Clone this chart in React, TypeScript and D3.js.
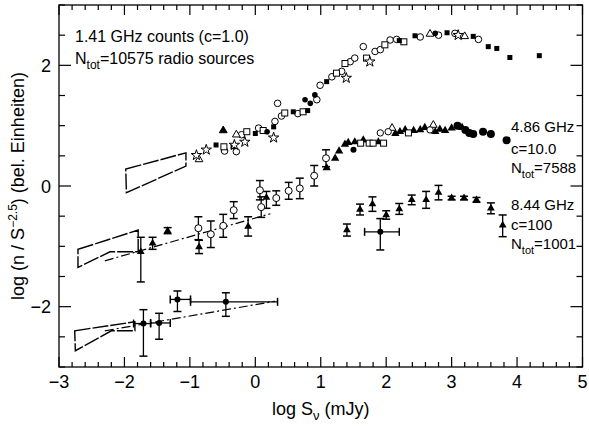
import React from "react";
import * as d3 from "d3";

// ---------- data ----------
type P = [number, number];
// 1.41 GHz counts (c=1.0)
const s141OpenCircles: P[] = [[-0.47,0.58],[-0.29,0.57],[-0.21,0.85],[0.05,0.96],[0.30,1.07],[0.34,1.37],[0.40,1.16],[0.65,1.20],[0.94,1.43],[0.99,1.67],[1.17,1.81],[1.32,1.90],[1.45,2.06],[1.52,2.12],[1.65,2.31],[1.83,2.23],[1.91,2.26],[2.06,2.42],[2.16,2.43],[2.52,2.47],[2.80,2.50],[3.05,2.53],[3.41,2.43]];
const s141OpenSquares: P[] = [[-0.48,0.65],[-0.13,0.90],[0.12,0.92],[0.45,1.21],[0.73,1.23],[1.24,1.87],[1.37,2.03],[1.70,2.12],[1.98,2.34],[2.27,2.39]];
const s141FilledSquares: P[] = [[-0.60,0.68],[-0.34,0.65],[0.0,0.87],[0.28,0.98],[0.58,1.23],[0.80,1.25],[1.09,1.73],[2.20,2.41],[2.44,2.49],[2.93,2.54],[3.33,2.48],[3.56,2.31],[3.69,2.28],[3.89,2.13],[4.34,2.16]];
const s141FilledCircles: P[] = [[0.18,0.90],[0.76,1.43],[0.84,1.37],[0.91,1.51],[2.75,2.53]];
const s141Triangles: P[] = [[-0.49,0.92],[-0.86,0.44],[-0.29,0.85],[2.67,2.52],[3.20,2.48]];
const s141Stars: P[] = [[-0.90,0.51],[-0.75,0.60],[-0.32,0.68],[-0.16,0.73],[0.28,0.80],[1.39,1.79],[1.75,2.06],[3.10,2.50]];
const wedge141: P[] = [[-1.98,0.28],[-1.06,0.55],[-1.06,0.33],[-1.97,-0.11]];

// 4.86 GHz (c=10.0)
const s486FilledTriangles: P[] = [[1.09,0.30],[1.22,0.46],[1.28,0.58],[1.37,0.69],[1.42,0.72],[1.52,0.73],[1.65,0.76],[1.88,0.73],[2.14,0.87],[2.21,0.90],[2.29,0.93],[2.42,0.92],[2.52,0.93],[2.59,0.97],[2.75,0.90],[2.82,0.94],[2.90,0.92],[3.00,0.96],[3.16,0.97]];
const s486OpenSquares: P[] = [[1.61,0.71],[1.74,0.71],[1.80,0.71],[1.96,0.71],[2.34,0.88]];
const s486FilledCircles: P[] = [[1.50,0.60],[3.09,1.00],[3.21,0.93],[3.27,0.88],[3.33,0.86],[3.48,0.90],[3.60,0.86],[3.84,0.76]];
const s486OpenTriangles: P[] = [[2.09,0.96],[2.72,1.01]];
const s486OpenCircles: P[] = [[1.91,0.88],[2.03,0.90],[2.67,0.93]];
// [x, y, errDown, errUp]
const s486OpenErr: [number,number,number,number][] = [[-0.87,-0.70,0.19,0.19],[-0.68,-0.80,0.22,0.22],[-0.49,-0.66,0.19,0.19],[-0.33,-0.40,0.14,0.14],[0.07,-0.07,0.16,0.16],[0.09,-0.35,0.17,0.17],[0.32,-0.20,0.12,0.12],[0.51,-0.08,0.14,0.14],[0.68,-0.04,0.17,0.17],[0.90,0.17,0.17,0.17],[1.08,0.46,0.14,0.14]];
const s486FilledErr: [number,number,number,number][] = [[-1.75,-1.09,0.50,0.24],[-1.57,-0.95,0.10,0.10],[-1.34,-0.74,0.05,0.05],[-0.86,-1.01,0.11,0.11],[-0.11,-0.67,0.16,0.16],[0.17,-0.19,0.18,0.10]];
const wedge486: P[] = [[-2.71,-1.05],[-1.79,-0.73],[-1.79,-1.09],[-2.22,-1.09],[-2.71,-1.35]];
const fit486: P[] = [[-2.30,-1.24],[0.23,-0.46]];

// 8.44 GHz (c=100)
const s844Err: [number,number,number,number][] = [[1.40,-0.73,0.10,0.10],[1.60,-0.39,0.09,0.09],[1.79,-0.30,0.12,0.12],[2.00,-0.48,0.07,0.07],[2.20,-0.38,0.09,0.09],[2.39,-0.23,0.08,0.08],[2.61,-0.23,0.14,0.14],[2.80,-0.11,0.12,0.12],[3.00,-0.20,0.03,0.03],[3.19,-0.20,0.03,0.03],[3.38,-0.23,0.04,0.04],[3.60,-0.37,0.09,0.09],[3.78,-0.65,0.19,0.17]];
// [x, y, xLow, xHigh, yLow, yHigh]
const s844Cross: [number,number,number,number,number,number][] = [[1.91,-0.76,1.67,2.20,-1.06,-0.54],[-1.71,-2.28,-1.86,-1.60,-2.82,-2.05],[-1.47,-2.27,-1.60,-1.30,-2.54,-2.11],[-1.19,-1.88,-1.30,-0.99,-2.08,-1.74],[-0.45,-1.92,-0.99,0.34,-2.16,-1.77]];
const wedge844: P[] = [[-2.76,-2.40],[-1.84,-2.25],[-1.84,-2.40],[-2.20,-2.40],[-2.75,-2.73]];
const fit844: P[] = [[-2.30,-2.40],[0.30,-1.91]];

const xTickLabels = [-3, -2, -1, 0, 1, 2, 3, 4, 5];
const yTickLabels = [-2, 0, 2];

// ---------- layout ----------
const W = 589, H = 426;
const L = 59, R = 582.5, T = 5, B = 367;
const FONT = "'Liberation Sans', Arial, Helvetica, sans-serif";
const fmt = (v: number) => (v < 0 ? "\u2212" + Math.abs(v) : String(v));

export default function App() {
  const x = d3.scaleLinear().domain([-3, 5]).range([L, R]);
  const y = d3.scaleLinear().domain([-3, 3]).range([B, T]);
  const xMinor = d3.range(-3, 5.001, 0.2).map((v) => Math.round(v * 10) / 10);
  const yMinor = d3.range(-3, 3.001, 0.5);
  const line = d3.line<P>().x((d) => x(d[0])).y((d) => y(d[1]));
  const poly = (pts: P[]) => line(pts)! + "Z";
  const tri = d3.symbol().type(d3.symbolTriangle).size(26)()!;
  const triBig = d3.symbol().type(d3.symbolTriangle).size(30)()!;
  const star = d3.symbol().type(d3.symbolStar).size(34)()!;
  const sw = 1;

  const errBar = (cx: number, y0: number, y1: number, key: string, cap = 4) => (
    <g key={key}>
      <line x1={cx} x2={cx} y1={y0} y2={y1} stroke="#000" strokeWidth={1.3} />
      <line x1={cx - cap} x2={cx + cap} y1={y0} y2={y0} stroke="#000" strokeWidth={1.5} />
      <line x1={cx - cap} x2={cx + cap} y1={y1} y2={y1} stroke="#000" strokeWidth={1.5} />
    </g>
  );
  const hBar = (cy: number, x0: number, x1: number, key: string, cap = 4) => (
    <g key={key}>
      <line x1={x0} x2={x1} y1={cy} y2={cy} stroke="#000" strokeWidth={1.3} />
      <line x1={x0} x2={x0} y1={cy - cap} y2={cy + cap} stroke="#000" strokeWidth={1.5} />
      <line x1={x1} x2={x1} y1={cy - cap} y2={cy + cap} stroke="#000" strokeWidth={1.5} />
    </g>
  );

  return (
    <svg width={W} height={H} style={{ position: "absolute", left: 0, top: 0, background: "#fff" }} fontFamily={FONT}>
      <rect width={W} height={H} fill="#fff" />
      {/* frame */}
      <rect x={L} y={T} width={R - L} height={B - T} fill="none" stroke="#000" strokeWidth={1.3} />
      {/* x ticks bottom & top */}
      {xMinor.map((v, i) => {
        const major = Math.abs(v - Math.round(v)) < 1e-6;
        const len = major ? 10 : 5;
        return (
          <g key={"xt" + i}>
            <line x1={x(v)} x2={x(v)} y1={B} y2={B - len} stroke="#000" strokeWidth={1.2} />
            <line x1={x(v)} x2={x(v)} y1={T} y2={T + len} stroke="#000" strokeWidth={1.2} />
          </g>
        );
      })}
      {yMinor.map((v, i) => {
        const major = Math.abs(v % 2) < 1e-6;
        const len = major ? 12 : 6;
        return (
          <g key={"yt" + i}>
            <line x1={L} x2={L + len} y1={y(v)} y2={y(v)} stroke="#000" strokeWidth={1.2} />
            <line x1={R} x2={R - len} y1={y(v)} y2={y(v)} stroke="#000" strokeWidth={1.2} />
          </g>
        );
      })}
      {xTickLabels.map((v) => (
        <text key={"xl" + v} x={x(v)} y={B + 21} textAnchor="middle" fontSize={18}>{fmt(v)}</text>
      ))}
      {yTickLabels.map((v) => (
        <text key={"yl" + v} x={L - 8} y={y(v) + 6.5} textAnchor="end" fontSize={18}>{fmt(v)}</text>
      ))}
      <text x={(L + R) / 2} y={415} textAnchor="middle" fontSize={18}>
        log S<tspan fontSize={13} dy={5}>ν</tspan><tspan dy={-5}> (mJy)</tspan>
      </text>
      <text transform={`translate(24,${(T + B) / 2}) rotate(-90)`} textAnchor="middle" fontSize={18}>
        log (n / S<tspan fontSize={12} dy={-7}>−2.5</tspan><tspan dy={7}>) (bel. Einheiten)</tspan>
      </text>

      {/* annotations */}
      <text x={75} y={42} fontSize={16}>1.41 GHz counts (c=1.0)</text>
      <text x={75} y={64} fontSize={16}>N<tspan fontSize={12} dy={5}>tot</tspan><tspan dy={-5}>=10575 radio sources</tspan></text>
      <text x={511} y={132} fontSize={15}>4.86 GHz</text>
      <text x={511} y={154} fontSize={15}>c=10.0</text>
      <text x={511} y={173} fontSize={15}>N<tspan fontSize={11} dy={5}>tot</tspan><tspan dy={-5}>=7588</tspan></text>
      <text x={511} y={210} fontSize={15}>8.44 GHz</text>
      <text x={511} y={230} fontSize={15}>c=100</text>
      <text x={511} y={249} fontSize={15}>N<tspan fontSize={11} dy={5}>tot</tspan><tspan dy={-5}>=1001</tspan></text>

      {/* wedges and fits */}
      {[wedge141, wedge486, wedge844].map((w, i) => (
        <path key={"w" + i} d={poly(w)} fill="none" stroke="#000" strokeWidth={1.4} strokeDasharray="16,2" />
      ))}
      {[fit486, fit844].map((f, i) => (
        <path key={"f" + i} d={line(f)!} fill="none" stroke="#000" strokeWidth={1.2} strokeDasharray="9,3,2,3" />
      ))}

      {/* 1.41 GHz */}
      {s141OpenCircles.map((d, i) => (
        <circle key={"a" + i} cx={x(d[0])} cy={y(d[1])} r={3.3} fill="#fff" stroke="#000" strokeWidth={sw} />
      ))}
      {s141OpenSquares.map((d, i) => (
        <rect key={"b" + i} x={x(d[0]) - 3} y={y(d[1]) - 3} width={6} height={6} fill="#fff" stroke="#000" strokeWidth={sw} />
      ))}
      {s141FilledSquares.map((d, i) => (
        <rect key={"c" + i} x={x(d[0]) - 2.5} y={y(d[1]) - 2.5} width={5} height={5} fill="#000" />
      ))}
      {s141FilledCircles.map((d, i) => (
        <circle key={"d" + i} cx={x(d[0])} cy={y(d[1])} r={2.8} fill="#000" />
      ))}
      {s141Triangles.map((d, i) => (
        <path key={"e" + i} d={tri} transform={`translate(${x(d[0])},${y(d[1])})`} fill={i === 0 ? "#000" : "#fff"} stroke="#000" strokeWidth={sw} />
      ))}
      {s141Stars.map((d, i) => (
        <path key={"g" + i} d={star} transform={`translate(${x(d[0])},${y(d[1])})`} fill="#fff" stroke="#000" strokeWidth={sw} />
      ))}

      {/* 4.86 GHz */}
      {s486OpenErr.map((d, i) => errBar(x(d[0]), y(d[1] - d[2]), y(d[1] + d[3]), "oe" + i))}
      {s486FilledErr.map((d, i) => errBar(x(d[0]), y(d[1] - d[2]), y(d[1] + d[3]), "fe" + i))}
      {s486OpenErr.map((d, i) => (
        <circle key={"oc" + i} cx={x(d[0])} cy={y(d[1])} r={3.5} fill="#fff" stroke="#000" strokeWidth={sw} />
      ))}
      {s486FilledErr.map((d, i) => (
        <path key={"ft" + i} d={tri} transform={`translate(${x(d[0])},${y(d[1])})`} fill="#000" />
      ))}
      {s486FilledTriangles.map((d, i) => (
        <path key={"h" + i} d={triBig} transform={`translate(${x(d[0])},${y(d[1])})`} fill="#000" />
      ))}
      {s486OpenSquares.map((d, i) => (
        <rect key={"j" + i} x={x(d[0]) - 3} y={y(d[1]) - 3} width={6} height={6} fill="#fff" stroke="#000" strokeWidth={sw} />
      ))}
      {s486FilledCircles.map((d, i) => (
        <circle key={"k" + i} cx={x(d[0])} cy={y(d[1])} r={i === 0 ? 3 : 4} fill="#000" />
      ))}
      {s486OpenTriangles.map((d, i) => (
        <path key={"l" + i} d={tri} transform={`translate(${x(d[0])},${y(d[1])})`} fill="#fff" stroke="#000" strokeWidth={sw} />
      ))}
      {s486OpenCircles.map((d, i) => (
        <circle key={"m" + i} cx={x(d[0])} cy={y(d[1])} r={3.2} fill="#fff" stroke="#000" strokeWidth={sw} />
      ))}

      {/* 8.44 GHz */}
      {s844Err.map((d, i) => errBar(x(d[0]), y(d[1] - d[2]), y(d[1] + d[3]), "ee" + i))}
      {s844Err.map((d, i) => (
        <path key={"et" + i} d={tri} transform={`translate(${x(d[0])},${y(d[1])})`} fill="#000" />
      ))}
      {s844Cross.map((d, i) => (
        <g key={"cr" + i}>
          {errBar(x(d[0]), y(d[4]), y(d[5]), "cv" + i)}
          {hBar(y(d[1]), x(d[2]), x(d[3]), "ch" + i)}
          <circle cx={x(d[0])} cy={y(d[1])} r={3} fill="#000" />
        </g>
      ))}
    </svg>
  );
}
